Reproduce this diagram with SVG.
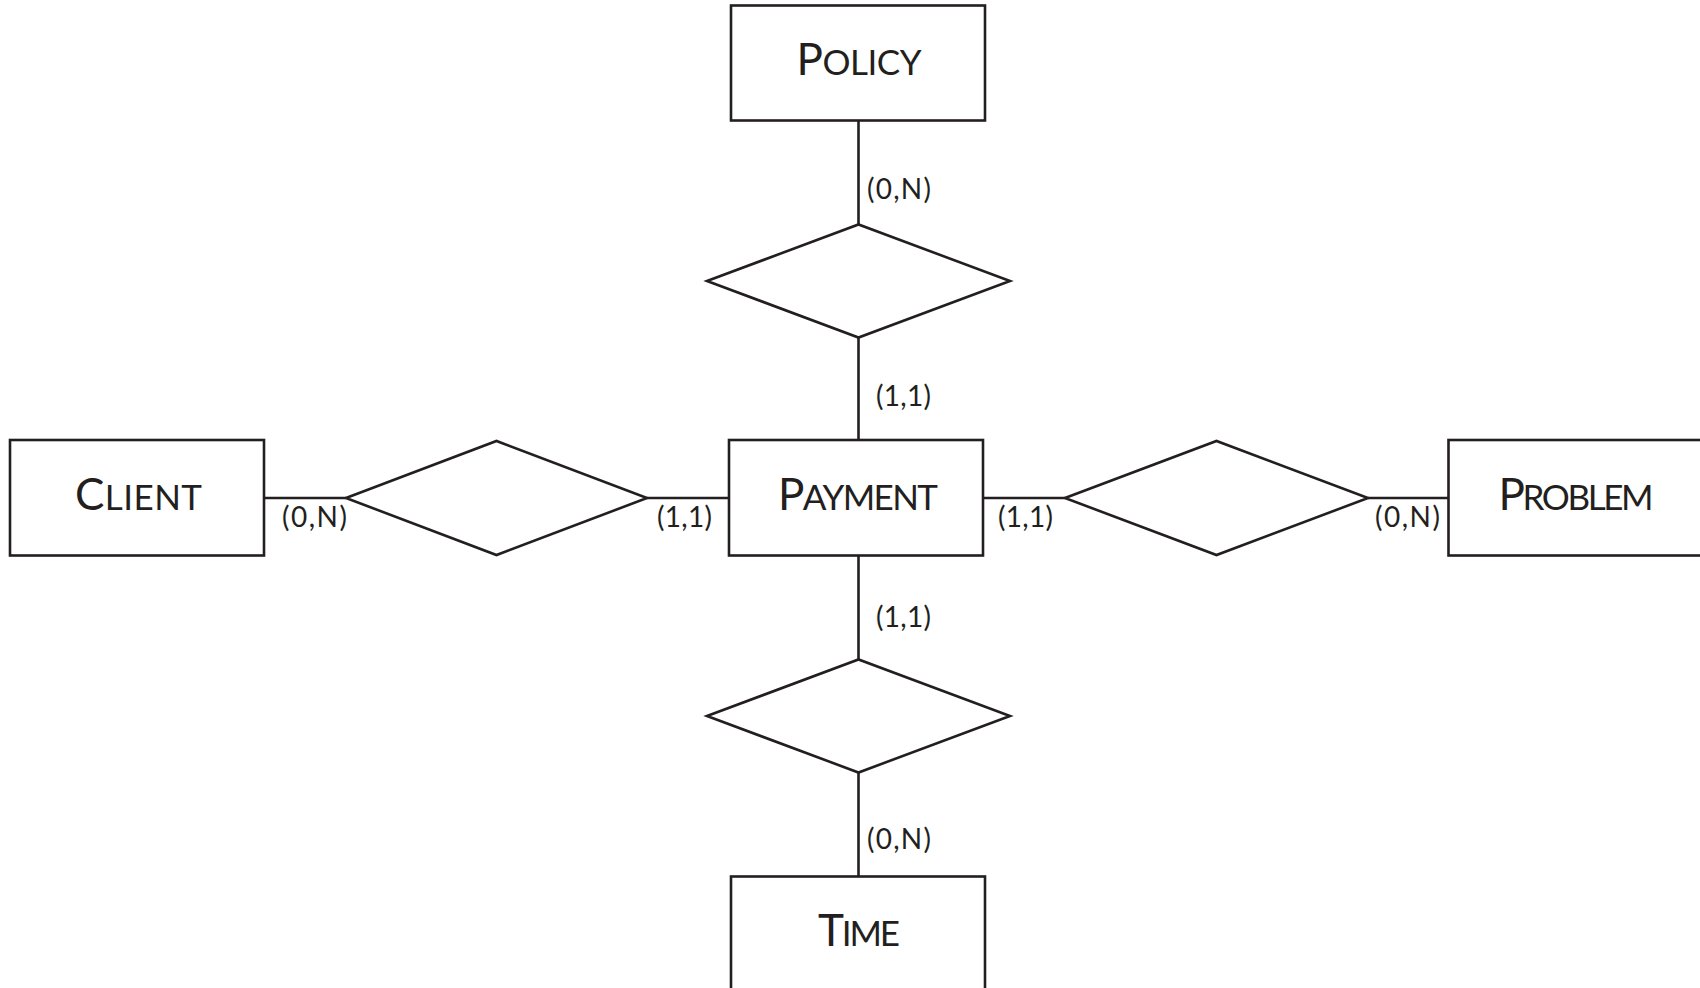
<svg xmlns="http://www.w3.org/2000/svg" width="1700" height="988" viewBox="0 0 1700 988">
<style>
.shape{fill:#fff;stroke:#231f20;stroke-width:2.6}
.conn line{stroke:#231f20;stroke-width:2.6}
.title{font-family:Lato,"Liberation Sans",sans-serif;fill:#231f20;text-anchor:middle}
.big{font-size:44px}
.sm{font-size:35px}
.card{font-family:Lato,"Liberation Sans",sans-serif;font-size:28px;fill:#231f20}
</style>
<rect width="1700" height="988" fill="#fff"/>
<g id="connectors" class="conn">
<line x1="858.5" y1="120.5" x2="858.5" y2="224.5"/>
<line x1="858.5" y1="337.5" x2="858.5" y2="440"/>
<line x1="858.5" y1="555.5" x2="858.5" y2="659.5"/>
<line x1="858.5" y1="772.5" x2="858.5" y2="876.5"/>
<line x1="264" y1="498" x2="346" y2="498"/>
<line x1="647" y1="498" x2="729" y2="498"/>
<line x1="983" y1="498" x2="1065" y2="498"/>
<line x1="1368" y1="498" x2="1448.5" y2="498"/>
</g>
<g id="policy">
<rect class="shape" x="731" y="5.5" width="254" height="115"/>
<text class="title" x="859" y="75" textLength="125"><tspan class="big">P</tspan><tspan class="sm">OLICY</tspan></text>
</g>
<g id="payment">
<rect class="shape" x="729" y="440" width="254" height="115.5"/>
<text class="title" x="858" y="510" textLength="160"><tspan class="big">P</tspan><tspan class="sm">AYMENT</tspan></text>
</g>
<g id="client">
<rect class="shape" x="10" y="440" width="254" height="115.5"/>
<text class="title" x="138.5" y="510" textLength="127"><tspan class="big">C</tspan><tspan class="sm">LIENT</tspan></text>
</g>
<g id="problem">
<rect class="shape" x="1448.5" y="440" width="270" height="115.5"/>
<text class="title" x="1576" y="510" textLength="155"><tspan class="big">P</tspan><tspan class="sm">ROBLEM</tspan></text>
</g>
<g id="time">
<rect class="shape" x="731" y="876.5" width="254" height="130"/>
<text class="title" x="859" y="946" textLength="82"><tspan class="big">T</tspan><tspan class="sm">IME</tspan></text>
</g>
<g id="rel-policy-payment">
<polygon class="shape" points="707,281 858.5,224.5 1010,281 858.5,337.5"/>
</g>
<g id="rel-client-payment">
<polygon class="shape" points="346,498 496.5,441 647,498 496.5,555"/>
</g>
<g id="rel-payment-problem">
<polygon class="shape" points="1065,498 1216.5,441 1368,498 1216.5,555"/>
</g>
<g id="rel-payment-time">
<polygon class="shape" points="707,716 858.5,659.5 1010,716 858.5,772.5"/>
</g>
<g id="cardinalities">
<text class="card" x="867" y="199" textLength="64">(0,N)</text>
<text class="card" x="876" y="406" textLength="55">(1,1)</text>
<text class="card" x="282" y="527" textLength="65">(0,N)</text>
<text class="card" x="657" y="527" textLength="55">(1,1)</text>
<text class="card" x="998" y="527" textLength="55">(1,1)</text>
<text class="card" x="1375" y="527" textLength="65">(0,N)</text>
<text class="card" x="876" y="627" textLength="55">(1,1)</text>
<text class="card" x="867" y="849" textLength="64">(0,N)</text>
</g>
</svg>
